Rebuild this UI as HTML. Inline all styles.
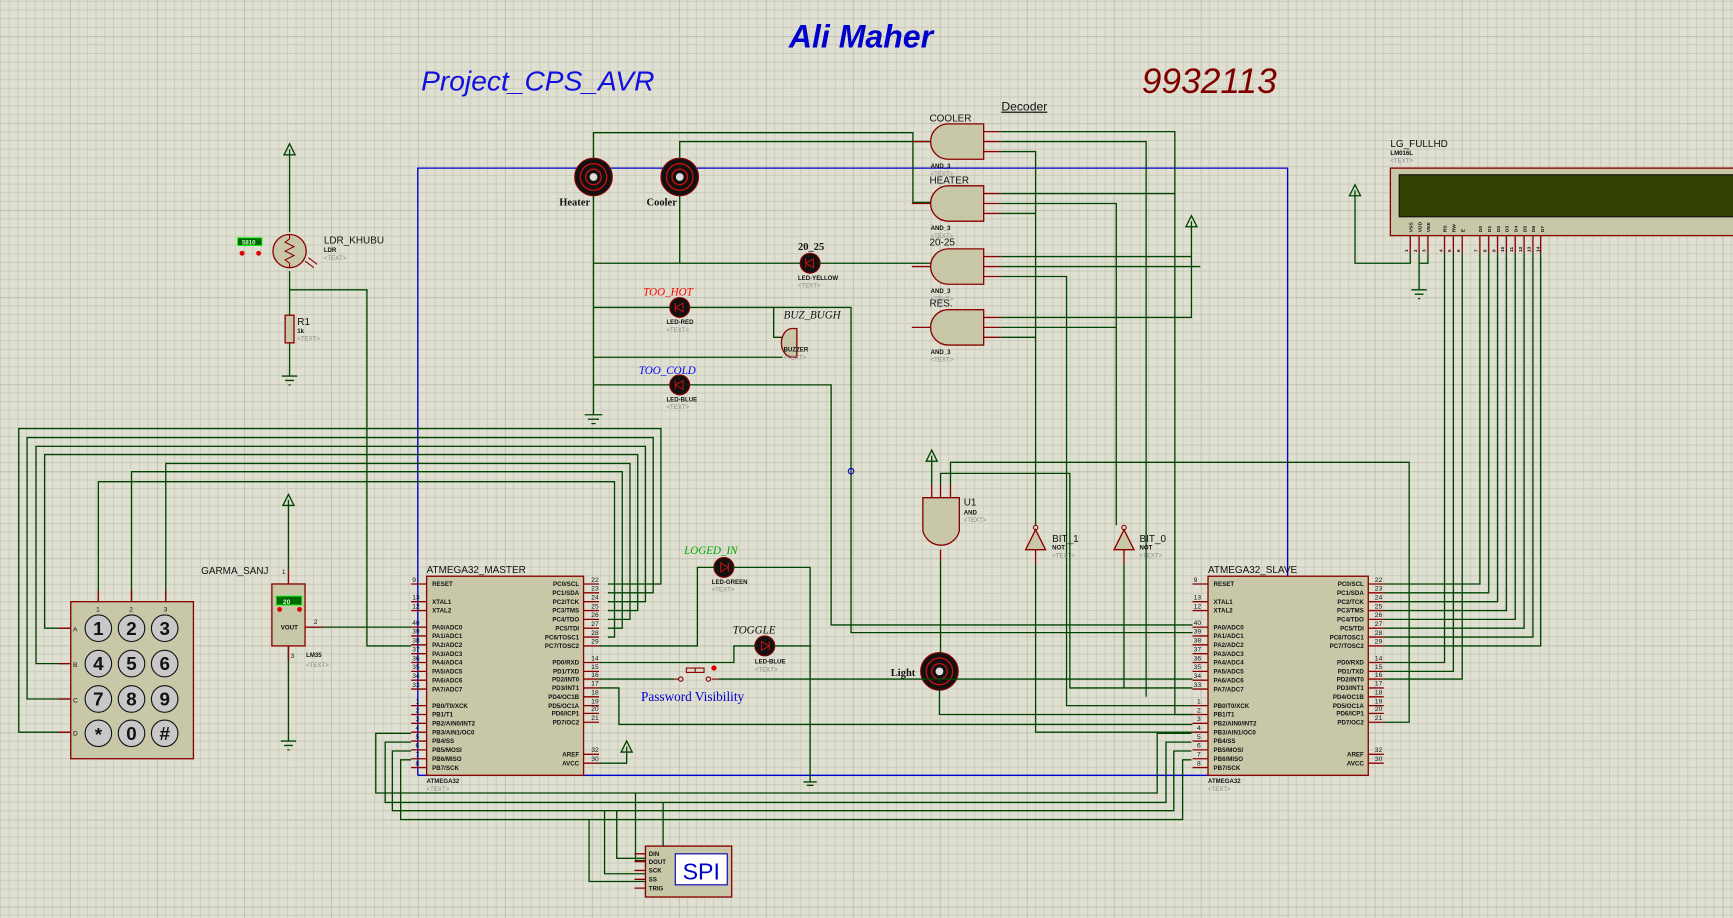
<!DOCTYPE html>
<html><head><meta charset="utf-8"><style>
html,body{margin:0;padding:0;background:#e0e0d2;}
svg{display:block}
text{font-family:"Liberation Sans",sans-serif}
text[font-family]{font-family:"Liberation Serif",serif}
.w{fill:none;stroke:#004400;stroke-width:1.2}
.b{fill:none;stroke:#0000cc;stroke-width:1.2}
.p{stroke:#8b0000;stroke-width:1.2}
.c{fill:#c8c8a9;stroke:#8b0000;stroke-width:1.2}
.pl{font-size:5.6px;font-weight:bold;fill:#111}
.pn{font-size:6px;fill:#111}
.lab{font-size:9px;fill:#111}
.tx{font-size:5.5px;fill:#888}
.sm{font-size:5.5px;font-weight:bold;fill:#111}
</style></head><body>
<svg width="1733" height="918" viewBox="0 0 1568 830" preserveAspectRatio="none" xmlns="http://www.w3.org/2000/svg">
<defs>
<pattern id="g" patternUnits="userSpaceOnUse" x="63.3" y="32.6" width="78.7" height="78.7">
<rect width="78.7" height="78.7" fill="#e0e0d2"/>
<path d="M7.87 0V78.7M15.74 0V78.7M23.61 0V78.7M31.48 0V78.7M39.35 0V78.7M47.22 0V78.7M55.09 0V78.7M62.96 0V78.7M70.83 0V78.7M0 7.87H78.7M0 15.74H78.7M0 23.61H78.7M0 31.48H78.7M0 39.35H78.7M0 47.22H78.7M0 55.09H78.7M0 62.96H78.7M0 70.83H78.7" stroke="#cacabb" stroke-width="0.8"/>
<path d="M0 0V78.7M0 0H78.7" stroke="#bdbdae" stroke-width="1.6"/>
</pattern>
</defs>
<rect width="1568" height="830" fill="url(#g)"/>

<!-- titles -->
<text x="779" y="43" font-size="29" font-weight="bold" font-style="italic" style="font-family:'Liberation Sans',sans-serif" fill="#0000cc" text-anchor="middle">Ali Maher</text>
<text x="381" y="82" font-size="25.5" font-style="italic" fill="#1010e0">Project_CPS_AVR</text>
<text x="1033" y="84" font-size="32" font-style="italic" fill="#800000">9932113</text>
<text x="906" y="100" font-size="11" fill="#111" text-decoration="underline">Decoder</text>

<!-- blue wire -->
<path class="b" d="M378 701V152H1165V522M378 701H1093"/>

<!-- keypad wires -->
<path class="w" d="M64 662H17V387.5H598V528H550"/>
<path class="w" d="M64 632H24.5V395.6H591V536H550"/>
<path class="w" d="M64 600H32.6V403.6H584V544H550"/>
<path class="w" d="M64 568H40.4V411H577V552H550"/>
<path class="w" d="M150 544V419H570V560H550"/>
<path class="w" d="M119 544V426.5H563V568H550"/>
<path class="w" d="M89 544V435.5H556V576H550"/>

<!-- LDR -->
<path class="w" d="M262 135V210M262 245V285M262 310V340"/>
<path class="w" d="M257 140L262 130L267 140Z"/>
<path class="w" d="M255 340H269M258 344H266M261 348H263"/>
<path class="w" d="M262 262H332V584H372"/>
<circle cx="262" cy="227" r="15" class="c"/>
<path d="M262 212V216L258 219L266 223L258 227L266 231L258 235L262 238V242" fill="none" stroke="#8b0000"/>
<path d="M276 236L284 242M279 233L287 239" stroke="#8b0000"/>
<rect x="215" y="215" width="22" height="7" fill="#006600" stroke="#00ff00" stroke-width="0.8"/>
<text x="219" y="221" font-size="5.5" fill="#cfc" font-weight="bold">5810</text>
<circle cx="219" cy="229" r="2.2" fill="#dd0000"/><circle cx="234" cy="229" r="2.2" fill="#dd0000"/>
<text x="293" y="220" font-size="9" fill="#111">LDR_KHUBU</text>
<text x="293" y="228" class="sm">LDR</text><text x="293" y="235" class="tx">&lt;TEXT&gt;</text>
<rect x="258" y="285" width="8" height="25" class="c"/>
<text x="269" y="294" font-size="9" fill="#111">R1</text>
<text x="269" y="301" class="sm">1k</text><text x="269" y="308" class="tx">&lt;TEXT&gt;</text>

<!-- LM35 -->
<path class="w" d="M261 452V515M261 584V670"/>
<path class="w" d="M256 457L261 447L266 457Z"/>
<path class="w" d="M254 670H268M257 674H265M260 678H262"/>
<path class="w" d="M276 567H372"/>
<path class="p" d="M261 515V528M261 584V597M276 567H292"/>
<rect x="246" y="528" width="30" height="56" class="c"/>
<rect x="250" y="539" width="23" height="8" fill="#006600" stroke="#00ff00" stroke-width="0.8"/>
<text x="256" y="546" font-size="6" fill="#cfc" font-weight="bold">20</text>
<circle cx="253" cy="551" r="2.2" fill="#dd0000"/><circle cx="271" cy="551" r="2.2" fill="#dd0000"/>
<text x="254" y="569" class="pl">VOUT</text>
<text x="182" y="519" font-size="9" fill="#111">GARMA_SANJ</text>
<text x="255" y="519" class="pn">1</text><text x="284" y="564" class="pn">2</text><text x="263" y="595" class="pn">3</text>
<text x="277" y="594" class="sm">LM35</text><text x="277" y="603" class="tx">&lt;TEXT&gt;</text>

<!-- keypad -->
<rect x="64" y="544" width="111" height="142" class="c"/>
<path class="p" d="M53 568H64M53 600H64M53 632H64M53 662H64M89 534V544M119 534V544M150 534V544"/>
<g font-size="6" fill="#111"><text x="66" y="571">A</text><text x="66" y="603">B</text><text x="66" y="635">C</text><text x="66" y="665">D</text><text x="87" y="553">1</text><text x="117" y="553">2</text><text x="148" y="553">3</text></g>
<g fill="#c8c8c8" stroke="#111" stroke-width="1">
<circle cx="89" cy="568" r="12"/><circle cx="119" cy="568" r="12"/><circle cx="149" cy="568" r="12"/>
<circle cx="89" cy="600" r="12"/><circle cx="119" cy="600" r="12"/><circle cx="149" cy="600" r="12"/>
<circle cx="89" cy="632" r="12"/><circle cx="119" cy="632" r="12"/><circle cx="149" cy="632" r="12"/>
<circle cx="89" cy="663" r="12"/><circle cx="119" cy="663" r="12"/><circle cx="149" cy="663" r="12"/>
</g>
<g font-size="17" font-weight="bold" fill="#111" text-anchor="middle">
<text x="89" y="574">1</text><text x="119" y="574">2</text><text x="149" y="574">3</text>
<text x="89" y="606">4</text><text x="119" y="606">5</text><text x="149" y="606">6</text>
<text x="89" y="638">7</text><text x="119" y="638">8</text><text x="149" y="638">9</text>
<text x="89" y="670">*</text><text x="119" y="669">0</text><text x="149" y="669">#</text>
</g>

<!-- SPI wires -->
<path class="w" d="M372 663H340V717H1047V663H1078"/>
<path class="w" d="M372 671H348.5V725.5H1055V671H1078"/>
<path class="w" d="M372 679H355V733H1062V679H1078"/>
<path class="w" d="M372 687H362.5V741H1070V687H1078"/>
<path class="w" d="M575 717V778H584M600 725.5V772H584M547 733V790H584M533 741V797H584"/>
<path class="w" d="M558 733V776H584"/>
<rect x="584" y="765" width="78" height="46" class="c"/>
<path class="p" d="M574 772H584M574 779H584M574 787H584M574 795H584M574 803H584"/>
<g font-size="5.5" fill="#111" font-weight="bold"><text x="587" y="774">DIN</text><text x="587" y="781">DOUT</text><text x="587" y="789">SCK</text><text x="587" y="797">SS</text><text x="587" y="805">TRIG</text></g>
<rect x="611" y="772" width="47" height="28" fill="#fff" stroke="#0000aa"/>
<text x="634.5" y="795" font-size="21" fill="#0000cc" text-anchor="middle">SPI</text>

<!-- master chip -->
<rect x="386" y="521" width="142" height="180" class="c"/>
<path class="p" d="M372 528H386M372 544H386M372 552H386M372 567H386M372 575H386M372 583H386M372 591H386M372 599H386M372 607H386M372 615H386M372 623H386M372 638H386M372 646H386M372 654H386M372 662H386M372 670H386M372 678H386M372 686H386M372 694H386M528 528H542M528 536H542M528 544H542M528 552H542M528 560H542M528 568H542M528 576H542M528 584H542M528 599H542M528 607H542M528 614H542M528 622H542M528 630H542M528 638H542M528 645H542M528 653H542M528 682H542M528 690H542"/>
<text x="386" y="518" font-size="9" fill="#111">ATMEGA32_MASTER</text>
<text x="386" y="708" class="sm">ATMEGA32</text><text x="386" y="715" class="tx">&lt;TEXT&gt;</text>
<g class="pl">
<text x="391" y="530">RESET</text><text x="391" y="546">XTAL1</text><text x="391" y="554">XTAL2</text>
<text x="391" y="569">PA0/ADC0</text><text x="391" y="577">PA1/ADC1</text><text x="391" y="585">PA2/ADC2</text><text x="391" y="593">PA3/ADC3</text><text x="391" y="601">PA4/ADC4</text><text x="391" y="609">PA5/ADC5</text><text x="391" y="617">PA6/ADC6</text><text x="391" y="625">PA7/ADC7</text>
<text x="391" y="640">PB0/T0/XCK</text><text x="391" y="648">PB1/T1</text><text x="391" y="656">PB2/AIN0/INT2</text><text x="391" y="664">PB3/AIN1/OC0</text><text x="391" y="672">PB4/SS</text><text x="391" y="680">PB5/MOSI</text><text x="391" y="688">PB6/MISO</text><text x="391" y="696">PB7/SCK</text>
</g>
<g class="pl" text-anchor="end">
<text x="524" y="530">PC0/SCL</text><text x="524" y="538">PC1/SDA</text><text x="524" y="546">PC2/TCK</text><text x="524" y="554">PC3/TMS</text><text x="524" y="562">PC4/TDO</text><text x="524" y="570">PC5/TDI</text><text x="524" y="578">PC6/TOSC1</text><text x="524" y="586">PC7/TOSC2</text>
<text x="524" y="601">PD0/RXD</text><text x="524" y="609">PD1/TXD</text><text x="524" y="616">PD2/INT0</text><text x="524" y="624">PD3/INT1</text><text x="524" y="632">PD4/OC1B</text><text x="524" y="640">PD5/OC1A</text><text x="524" y="647">PD6/ICP1</text><text x="524" y="655">PD7/OC2</text>
<text x="524" y="684">AREF</text><text x="524" y="692">AVCC</text>
</g>
<g class="pn">
<text x="373" y="526">9</text><text x="373" y="542">13</text><text x="373" y="550">12</text><text x="373" y="565">40</text><text x="373" y="573">39</text><text x="373" y="581">38</text><text x="373" y="589">37</text><text x="373" y="597">36</text><text x="373" y="605">35</text><text x="373" y="613">34</text><text x="373" y="621">33</text><text x="376" y="636">1</text><text x="376" y="644">2</text><text x="376" y="652">3</text><text x="376" y="660">4</text><text x="376" y="668">5</text><text x="376" y="676">6</text><text x="376" y="684">7</text><text x="376" y="692">8</text>
<text x="535" y="526">22</text><text x="535" y="534">23</text><text x="535" y="542">24</text><text x="535" y="550">25</text><text x="535" y="558">26</text><text x="535" y="566">27</text><text x="535" y="574">28</text><text x="535" y="582">29</text><text x="535" y="597">14</text><text x="535" y="605">15</text><text x="535" y="612">16</text><text x="535" y="620">17</text><text x="535" y="628">18</text><text x="535" y="636">19</text><text x="535" y="643">20</text><text x="535" y="651">21</text><text x="535" y="680">32</text><text x="535" y="688">30</text>
</g>
<path class="w" d="M542 690H567V675M562 680L567 670L572 680Z"/>

<!-- slave chip -->
<rect x="1093" y="521" width="145" height="180" class="c"/>
<path class="p" d="M1079 528H1093M1079 544H1093M1079 552H1093M1079 567H1093M1079 575H1093M1079 583H1093M1079 591H1093M1079 599H1093M1079 607H1093M1079 615H1093M1079 623H1093M1079 638H1093M1079 646H1093M1079 654H1093M1079 662H1093M1079 670H1093M1079 678H1093M1079 686H1093M1079 694H1093M1238 528H1252M1238 536H1252M1238 544H1252M1238 552H1252M1238 560H1252M1238 568H1252M1238 576H1252M1238 584H1252M1238 599H1252M1238 607H1252M1238 614H1252M1238 622H1252M1238 630H1252M1238 638H1252M1238 645H1252M1238 653H1252M1238 682H1252M1238 690H1252"/>
<text x="1093" y="518" font-size="9" fill="#111">ATMEGA32_SLAVE</text>
<text x="1093" y="708" class="sm">ATMEGA32</text><text x="1093" y="715" class="tx">&lt;TEXT&gt;</text>
<g class="pl">
<text x="1098" y="530">RESET</text><text x="1098" y="546">XTAL1</text><text x="1098" y="554">XTAL2</text>
<text x="1098" y="569">PA0/ADC0</text><text x="1098" y="577">PA1/ADC1</text><text x="1098" y="585">PA2/ADC2</text><text x="1098" y="593">PA3/ADC3</text><text x="1098" y="601">PA4/ADC4</text><text x="1098" y="609">PA5/ADC5</text><text x="1098" y="617">PA6/ADC6</text><text x="1098" y="625">PA7/ADC7</text>
<text x="1098" y="640">PB0/T0/XCK</text><text x="1098" y="648">PB1/T1</text><text x="1098" y="656">PB2/AIN0/INT2</text><text x="1098" y="664">PB3/AIN1/OC0</text><text x="1098" y="672">PB4/SS</text><text x="1098" y="680">PB5/MOSI</text><text x="1098" y="688">PB6/MISO</text><text x="1098" y="696">PB7/SCK</text>
</g>
<g class="pl" text-anchor="end">
<text x="1234" y="530">PC0/SCL</text><text x="1234" y="538">PC1/SDA</text><text x="1234" y="546">PC2/TCK</text><text x="1234" y="554">PC3/TMS</text><text x="1234" y="562">PC4/TDO</text><text x="1234" y="570">PC5/TDI</text><text x="1234" y="578">PC6/TOSC1</text><text x="1234" y="586">PC7/TOSC2</text>
<text x="1234" y="601">PD0/RXD</text><text x="1234" y="609">PD1/TXD</text><text x="1234" y="616">PD2/INT0</text><text x="1234" y="624">PD3/INT1</text><text x="1234" y="632">PD4/OC1B</text><text x="1234" y="640">PD5/OC1A</text><text x="1234" y="647">PD6/ICP1</text><text x="1234" y="655">PD7/OC2</text>
<text x="1234" y="684">AREF</text><text x="1234" y="692">AVCC</text>
</g>
<g class="pn">
<text x="1080" y="526">9</text><text x="1080" y="542">13</text><text x="1080" y="550">12</text><text x="1080" y="565">40</text><text x="1080" y="573">39</text><text x="1080" y="581">38</text><text x="1080" y="589">37</text><text x="1080" y="597">36</text><text x="1080" y="605">35</text><text x="1080" y="613">34</text><text x="1080" y="621">33</text><text x="1083" y="636">1</text><text x="1083" y="644">2</text><text x="1083" y="652">3</text><text x="1083" y="660">4</text><text x="1083" y="668">5</text><text x="1083" y="676">6</text><text x="1083" y="684">7</text><text x="1083" y="692">8</text>
<text x="1244" y="526">22</text><text x="1244" y="534">23</text><text x="1244" y="542">24</text><text x="1244" y="550">25</text><text x="1244" y="558">26</text><text x="1244" y="566">27</text><text x="1244" y="574">28</text><text x="1244" y="582">29</text><text x="1244" y="597">14</text><text x="1244" y="605">15</text><text x="1244" y="612">16</text><text x="1244" y="620">17</text><text x="1244" y="628">18</text><text x="1244" y="636">19</text><text x="1244" y="643">20</text><text x="1244" y="651">21</text><text x="1244" y="680">32</text><text x="1244" y="688">30</text>
</g>

<!-- LCD -->
<rect x="1258" y="152" width="320" height="61" class="c"/>
<rect x="1266" y="158" width="312" height="38" fill="#334200" stroke="#111"/>
<text x="1258" y="133" font-size="9" fill="#111">LG_FULLHD</text>
<text x="1258" y="140" class="sm">LM016L</text><text x="1258" y="147" class="tx">&lt;TEXT&gt;</text>
<g font-size="4.5" fill="#111" font-weight="bold">
<text transform="translate(1278,210) rotate(-90)">VSS</text><text transform="translate(1286,210) rotate(-90)">VDD</text><text transform="translate(1294,210) rotate(-90)">VEE</text>
<text transform="translate(1309,210) rotate(-90)">RS</text><text transform="translate(1317,210) rotate(-90)">RW</text><text transform="translate(1325,210) rotate(-90)">E</text>
<text transform="translate(1341,210) rotate(-90)">D0</text><text transform="translate(1349,210) rotate(-90)">D1</text><text transform="translate(1357,210) rotate(-90)">D2</text><text transform="translate(1365,210) rotate(-90)">D3</text><text transform="translate(1373,210) rotate(-90)">D4</text><text transform="translate(1381,210) rotate(-90)">D5</text><text transform="translate(1389,210) rotate(-90)">D6</text><text transform="translate(1397,210) rotate(-90)">D7</text>
<text transform="translate(1274,228) rotate(-90)">1</text><text transform="translate(1282,228) rotate(-90)">2</text><text transform="translate(1290,228) rotate(-90)">3</text><text transform="translate(1305,228) rotate(-90)">4</text><text transform="translate(1313,228) rotate(-90)">5</text><text transform="translate(1321,228) rotate(-90)">6</text><text transform="translate(1337,228) rotate(-90)">7</text><text transform="translate(1345,228) rotate(-90)">8</text><text transform="translate(1353,228) rotate(-90)">9</text><text transform="translate(1361,228) rotate(-90)">10</text><text transform="translate(1369,228) rotate(-90)">11</text><text transform="translate(1377,228) rotate(-90)">12</text><text transform="translate(1385,228) rotate(-90)">13</text><text transform="translate(1393,228) rotate(-90)">14</text>
</g>
<path class="p" d="M1276 213V229M1284 213V229M1292 213V229M1307 213V229M1315 213V229M1323 213V229M1339 213V229M1347 213V229M1355 213V229M1363 213V229M1371 213V229M1379 213V229M1387 213V229M1394 213V229"/>
<path class="w" d="M1276 229V238H1226V172M1221 177L1226 167L1231 177Z M1284 229V238H1292V229M1284 238V262M1277 262H1291M1280 266H1288M1283 270H1285"/>
<path class="w" d="M1339 229V528H1252M1347 229V536H1252M1355 229V544H1252M1363 229V552H1252M1371 229V560H1252M1379 229V568H1252M1387 229V576H1252M1394 229V584H1252"/>
<path class="w" d="M1307 229V599H1252M1315 229V607H1252M1323 229V614H1252"/>

<!-- coils -->
<path class="w" d="M537 143V120H826V183H843M615 143V128H843"/>
<path class="w" d="M537 177V375M529 375H545M532 379H542M535 383H539"/>
<path class="w" d="M615 177V238"/>
<path class="w" d="M537 238H725M741 238H843"/>
<path class="w" d="M537 278H607M623 278H700V305H708"/>
<path class="w" d="M700 278H770V572H1079"/>
<path class="w" d="M537 323H708"/>
<path class="w" d="M537 348H607M623 348H752V565H1079"/>
<circle cx="770" cy="426" r="2.5" fill="none" stroke="#0000cc"/>
<g fill="#111" stroke="#8b0000">
<circle cx="537" cy="160" r="17"/><circle cx="615" cy="160" r="17"/><circle cx="850" cy="607" r="17"/>
</g>
<g fill="none" stroke="#cc1010" stroke-width="1.2">
<circle cx="537" cy="160" r="12"/><circle cx="537" cy="160" r="7"/>
<circle cx="615" cy="160" r="12"/><circle cx="615" cy="160" r="7"/>
<circle cx="850" cy="607" r="12"/><circle cx="850" cy="607" r="7"/>
</g>
<g fill="#ddd"><circle cx="537" cy="160" r="3.5"/><circle cx="615" cy="160" r="3.5"/><circle cx="850" cy="607" r="3.5"/></g>
<text x="506" y="186" font-size="9.5" font-weight="bold" font-family="Liberation Serif" fill="#111">Heater</text>
<text x="585" y="186" font-size="9.5" font-weight="bold" font-family="Liberation Serif" fill="#111">Cooler</text>

<!-- LEDs -->
<g fill="#111" stroke="#8b0000">
<circle cx="733" cy="238" r="9"/><circle cx="615" cy="278" r="9"/><circle cx="615" cy="348" r="9"/><circle cx="655" cy="513" r="9"/><circle cx="692" cy="584" r="9"/>
</g>
<g fill="none" stroke="#cc1010" stroke-width="0.9">
<path d="M729 238L736 234V242ZM729 234V242"/><path d="M611 278L618 274V282ZM611 274V282"/><path d="M611 348L618 344V352ZM611 344V352"/><path d="M659 513L652 509V517ZM659 509V517"/><path d="M696 584L689 580V588ZM696 580V588"/>
</g>
<text x="722" y="226" font-size="9.5" font-weight="bold" font-family="Liberation Serif" fill="#111">20_25</text>
<text x="722" y="253" class="sm">LED-YELLOW</text><text x="722" y="260" class="tx">&lt;TEXT&gt;</text>
<text x="582" y="267" font-size="10" font-style="italic" font-family="Liberation Serif" fill="#ff0000">TOO_HOT</text>
<text x="603" y="293" class="sm">LED-RED</text><text x="603" y="300" class="tx">&lt;TEXT&gt;</text>
<text x="578" y="338" font-size="10" font-style="italic" font-family="Liberation Serif" fill="#0000ff">TOO_COLD</text>
<text x="603" y="363" class="sm">LED-BLUE</text><text x="603" y="370" class="tx">&lt;TEXT&gt;</text>
<text x="619" y="501" font-size="10" font-style="italic" font-family="Liberation Serif" fill="#00aa00">LOGED_IN</text>
<text x="644" y="528" class="sm">LED-GREEN</text><text x="644" y="535" class="tx">&lt;TEXT&gt;</text>
<text x="663" y="573" font-size="10" font-style="italic" font-family="Liberation Serif" fill="#111">TOGGLE</text>
<text x="683" y="600" class="sm">LED-BLUE</text><text x="683" y="607" class="tx">&lt;TEXT&gt;</text>
<!-- buzzer -->
<path d="M721 297H717A10 13 0 0 0 717 323H721Z" class="c"/>
<text x="709" y="288" font-size="10" font-style="italic" font-family="Liberation Serif" fill="#111">BUZ_BUGH</text>
<text x="709" y="318" class="sm">BUZZER</text><text x="709" y="325" class="tx">&lt;TEXT&gt;</text>

<!-- master to LEDs & button -->
<path class="w" d="M542 584H631V513H647M663 513H733V707M727 707H739M730 710H736"/>
<path class="w" d="M542 599H664V584H684M700 584H734"/>
<path class="w" d="M542 614H610M650 614H1079M542 622H560V655H1079"/>
<path d="M610 614H614M644 614H650M621 604H637V608H621Z M629 604V608" fill="none" stroke="#8b0000"/>
<circle cx="616" cy="614" r="2" fill="none" stroke="#8b0000"/><circle cx="641" cy="614" r="2" fill="none" stroke="#8b0000"/><circle cx="646" cy="604" r="2.4" fill="#dd0000"/>
<text x="580" y="634" font-size="12" font-family="Liberation Serif" fill="#0000cc">Password Visibility</text>

<!-- decoder gates -->
<g>
<path class="c" d="M890 112H858A16 16 0 0 0 858 144H890Z"/>
<path class="c" d="M890 168H858A16 16 0 0 0 858 200H890Z"/>
<path class="c" d="M890 225H858A16 16 0 0 0 858 257H890Z"/>
<path class="c" d="M890 280H858A16 16 0 0 0 858 312H890Z"/>
<path class="p" d="M825 128H842M890 119H905M890 128H905M890 137H905M825 184H842M890 175H905M890 184H905M890 193H905M825 241H842M890 232H905M890 241H905M890 250H905M825 296H842M890 287H905M890 296H905M890 305H905"/>
</g>
<g font-size="9" fill="#111"><text x="841" y="110">COOLER</text><text x="841" y="166">HEATER</text><text x="841" y="222">20-25</text><text x="841" y="277">RES.</text></g>
<g class="sm"><text x="842" y="152">AND_3</text><text x="842" y="208">AND_3</text><text x="842" y="265">AND_3</text><text x="842" y="320">AND_3</text></g>
<g class="tx"><text x="842" y="159">&lt;TEXT&gt;</text><text x="842" y="215">&lt;TEXT&gt;</text><text x="842" y="272">&lt;TEXT&gt;</text><text x="842" y="327">&lt;TEXT&gt;</text></g>
<path class="w" d="M905 119H1063V646H1079M905 128H1037V630M905 137H937V475"/>
<path class="w" d="M905 175H1063M905 184H1010V475M905 193H937"/>
<path class="w" d="M905 232H1078V200M1073 205L1078 195L1083 205Z M905 241H1086M905 250H965V638H1079"/>
<path class="w" d="M905 287H1078V232M905 296H1010M905 305H937"/>

<!-- NOT gates -->
<path class="c" d="M928 497L937 479L946 497Z"/><circle cx="937" cy="477" r="2" fill="none" stroke="#8b0000"/>
<path class="c" d="M1008 497L1017 479L1026 497Z"/><circle cx="1017" cy="477" r="2" fill="none" stroke="#8b0000"/>
<path class="p" d="M937 497V510M1017 497V510"/>
<path class="w" d="M937 510V662H1079M1017 510V622"/>
<text x="952" y="490" font-size="9" fill="#111">BIT_1</text><text x="952" y="497" class="sm">NOT</text><text x="952" y="504" class="tx">&lt;TEXT&gt;</text>
<text x="1031" y="490" font-size="9" fill="#111">BIT_0</text><text x="1031" y="497" class="sm">NOT</text><text x="1031" y="504" class="tx">&lt;TEXT&gt;</text>

<!-- U1 -->
<path class="c" d="M835 450V480A17 17 0 0 0 868 480V450Z"/>
<path class="p" d="M843 438V450M851 438V450M860 438V450M851 497V507"/>
<path class="w" d="M843 438V412M838 417L843 407L848 417Z M851 438V428H968V622H1079M860 438V418H1275V653H1252"/>
<path class="w" d="M851 507V590M850 624V646H1079"/>
<text x="872" y="457" font-size="9" fill="#111">U1</text><text x="872" y="465" class="sm">AND</text><text x="872" y="472" class="tx">&lt;TEXT&gt;</text>
<text x="806" y="611" font-size="9.5" font-weight="bold" font-family="Liberation Serif" fill="#111">Light</text>
</svg>
</body></html>
